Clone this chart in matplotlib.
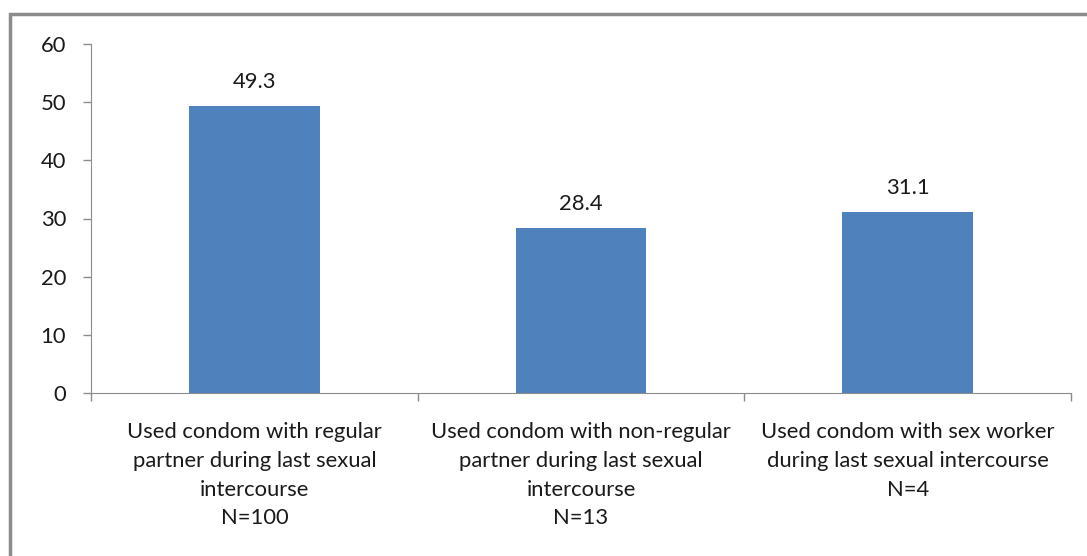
import matplotlib.pyplot as plt
from matplotlib.patches import Rectangle

categories = [
    "Used condom with regular\npartner during last sexual\nintercourse\nN=100",
    "Used condom with non-regular\npartner during last sexual\nintercourse\nN=13",
    "Used condom with sex worker\nduring last sexual intercourse\nN=4",
]
values = [49.3, 28.4, 31.1]
yticks = [0, 10, 20, 30, 40, 50, 60]

plt.rcParams['font.family'] = ['Lato', 'DejaVu Sans']
fs = 15.8

fig = plt.figure(figsize=(10.87, 5.56), dpi=100)
ax = fig.add_axes([91 / 1087, 1 - 393 / 556, 980 / 1087, 349 / 556])

# outer chart frame (cut off at right and bottom like the original)
fig.patches.append(Rectangle((10 / 1087, -0.1), 1.2, 1 - 14 / 556 + 0.1,
                             transform=fig.transFigure, fill=False,
                             edgecolor='#8c8c8c', linewidth=2.5))

x = range(len(values))
bars = ax.bar(x, values, width=0.4, color='#4f81bd')
for xi, v in zip(x, values):
    ax.text(xi, v + 2.4, f'{v}', ha='center', va='bottom', fontsize=fs, color='#1a1a1a')

ax.set_xlim(-0.5, 2.5)
ax.set_ylim(0, 60)
ax.set_yticks(yticks)
ax.set_yticklabels([str(t) for t in yticks], fontsize=fs, color='#1a1a1a')
ax.set_xticks([-0.5, 0.5, 1.5, 2.5])
ax.set_xticklabels([])
ax.tick_params(axis='both', colors='#8c8c8c', length=6, width=1)
ax.tick_params(axis='y', labelcolor='#1a1a1a', pad=12)
for xi, lab in zip(x, categories):
    ax.text(xi, -5.0, lab, ha='center', va='top', fontsize=fs, color='#1a1a1a',
            linespacing=1.55)

for s in ['top', 'right']:
    ax.spines[s].set_visible(False)
for s in ['left', 'bottom']:
    ax.spines[s].set_color('#8c8c8c')

fig.savefig('out.png', dpi=100)
